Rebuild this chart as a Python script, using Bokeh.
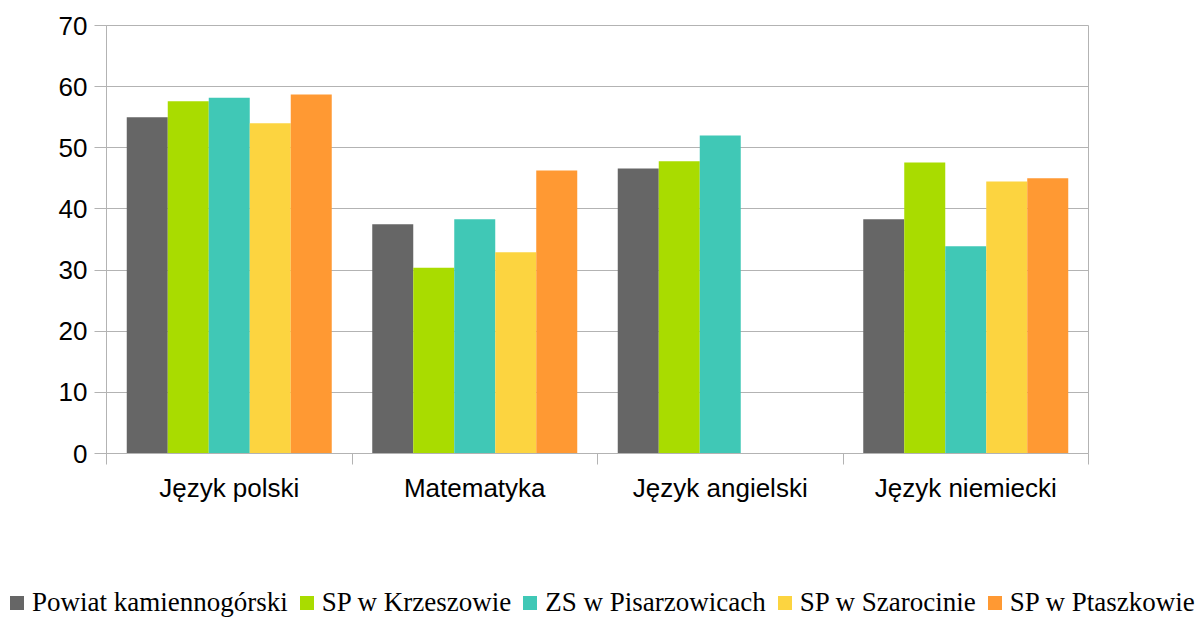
from bokeh.plotting import figure
from bokeh.layouts import column
from bokeh.models import ColumnDataSource, Range1d, FixedTicker, Div
from bokeh.transform import dodge
from bokeh.embed import file_html
from bokeh.resources import INLINE

# ---- data ----
categories = ["Język polski", "Matematyka", "Język angielski", "Język niemiecki"]
series_names = ["Powiat kamiennogórski", "SP w Krzeszowie", "ZS w Pisarzowicach",
                "SP w Szarocinie", "SP w Ptaszkowie"]
powiat = [55.0, 37.5, 46.6, 38.3]
krzeszow = [57.6, 30.4, 47.8, 47.6]
pisarzowice = [58.2, 38.3, 52.0, 33.9]
szarocin = [54.0, 32.9, 0.0, 44.5]
ptaszkow = [58.7, 46.3, 0.0, 45.0]
y_ticks = [0, 10, 20, 30, 40, 50, 60, 70]

colors = ["#666666", "#a9dc00", "#40c8b6", "#fcd440", "#ff9933"]

n = len(categories)
centres = [i + 0.5 for i in range(n)]

src = ColumnDataSource(dict(x=centres, cat=categories, s0=powiat, s1=krzeszow, s2=pisarzowice,
                            s3=szarocin, s4=ptaszkow))
bw = 0.167

# ---- main chart ----
p = figure(width=1196, height=513, output_backend="svg", toolbar_location=None,
           x_range=Range1d(0, n), y_range=Range1d(0, 70),
           min_border_left=106, min_border_right=108, min_border_top=25, min_border_bottom=60)
p.outline_line_color = "#b3b3b3"
p.background_fill_color = "white"
p.border_fill_color = "white"

for i, (name, col) in enumerate(zip(series_names, colors)):
    p.vbar(x=dodge("x", (i - 2) * bw), top=f"s{i}", width=bw,
           source=src, fill_color=col, line_color=None)

p.yaxis.ticker = FixedTicker(ticks=y_ticks)
p.yaxis.axis_line_color = "#b3b3b3"
p.yaxis.major_tick_line_color = "#b3b3b3"
p.yaxis.major_tick_out = 12
p.yaxis.major_tick_in = 0
p.yaxis.minor_tick_line_color = None
p.yaxis.major_label_standoff = 7
p.yaxis.major_label_text_font = "Liberation Sans"
p.yaxis.major_label_text_font_size = "26px"
p.yaxis.major_label_text_color = "black"

p.xgrid.grid_line_color = None
p.ygrid.grid_line_color = "#b3b3b3"
p.ygrid.ticker = FixedTicker(ticks=y_ticks)

xa = p.xaxis[0]
xa.ticker = FixedTicker(ticks=centres, minor_ticks=list(range(n + 1)))
xa.major_label_overrides = {c: lab for c, lab in zip(centres, categories)}
xa.axis_line_color = "#b3b3b3"
xa.major_tick_out = 0
xa.major_tick_in = 0
xa.major_tick_line_color = None
xa.minor_tick_out = 11
xa.minor_tick_in = 0
xa.minor_tick_line_color = "#b3b3b3"
xa.major_label_standoff = 8
xa.major_label_text_font = "Liberation Sans"
xa.major_label_text_font_size = "26px"
xa.major_label_text_color = "black"

# ---- legend (HTML strip below the chart) ----
items_html = "".join(
    f'<span style="display:inline-flex;align-items:baseline;margin-left:{0 if i == 0 else 12}px">'
    f'<span style="display:inline-block;width:14px;height:14px;background:{col};'
    f'margin-right:8px;position:relative;top:-1px"></span>{nm}</span>'
    for i, (nm, col) in enumerate(zip(series_names, colors))
)
legend_div = Div(
    text=(f'<div style="width:1196px;height:104px;box-sizing:border-box;padding-left:10px;'
          f'display:flex;align-items:flex-end;white-space:nowrap;'
          f'font-family:\'Liberation Serif\';font-size:27px;line-height:30px;color:black">'
          f'{items_html}</div>'),
    width=1196, height=104, margin=0,
)

layout = column(p, legend_div, spacing=0)
open("out.html", "w").write(file_html(layout, INLINE))
